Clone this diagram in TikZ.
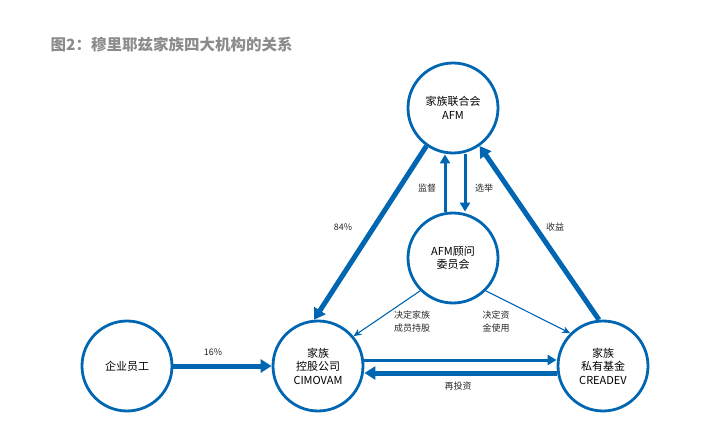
\documentclass[tikz,border=0pt]{standalone}
\usepackage{fontspec}
\setmainfont{Liberation Sans}
\newfontfamily\cjk{Noto Sans CJK SC}
\usetikzlibrary{arrows.meta}
\definecolor{afmblue}{RGB}{0,102,178}
\tikzset{every picture/.style={line width=0.75pt},
  org/.style={circle,draw=afmblue,line width=2.8pt,minimum size=90pt,inner sep=0pt,align=center,font=\cjk\fontsize{11}{13.5}\selectfont},
  thick arrow/.style={draw=afmblue,line width=5pt,-{Triangle[length=11pt,width=13pt]}},
  mid arrow/.style={draw=afmblue,line width=3pt,-{Triangle[length=9pt,width=10pt]}},
  thin arrow/.style={draw=afmblue,line width=1.1pt,-{Stealth[length=8pt,width=7pt]}},
  lbl/.style={font=\cjk\fontsize{9}{13}\selectfont,text=black!85,align=center}}
\begin{document}
\begin{tikzpicture}[x=1pt,y=1pt,yscale=-1,xscale=1]
\useasboundingbox (0,0) rectangle (719,435);

% Title
\node[anchor=west,font=\cjk\bfseries\fontsize{15.5}{18}\selectfont,text=black!45] (title) at (47,45) {图2：穆里耶兹家族四大机构的关系};

% Circles
\node[org] (afm) at (453,108) {家族联合会\\AFM};
\node[org] (board) at (453,258) {AFM顾问\\委员会};
\node[org] (cimovam) at (318,366) {家族\\控股公司\\CIMOVAM};
\node[org] (creadev) at (603,366) {家族\\私有基金\\CREADEV};
\node[org] (staff) at (127,366) {企业员工};

% Thick arrows
\draw[thick arrow] (afm.235) -- (cimovam.95);
\draw[thick arrow] (creadev.95) -- (afm.-55);
\draw[thick arrow] (staff.east) -- (cimovam.west);

% Between AFM and board
\draw[mid arrow] ([xshift=-8pt]board.north) -- ([xshift=-8pt]afm.south);
\draw[mid arrow] ([xshift=12pt]afm.south) -- ([xshift=12pt]board.north);

% Board decisions
\draw[thin arrow] (board.225) -- (cimovam.40);
\draw[thin arrow] (board.-45) -- (creadev.135);

% Between holding and fund
\draw[mid arrow] ([yshift=-6pt]cimovam.east) -- ([yshift=-6pt]creadev.west);
\draw[thick arrow] ([yshift=7pt]creadev.west) -- ([yshift=7pt]cimovam.east);

% Text Node
\node[lbl] (l84) at (343,227) {84\%};
\node[lbl] (lsup) at (427,188) {监督};
\node[lbl] (lele) at (484,188) {选举};
\node[lbl] (lrev) at (555,227) {收益};
\node[lbl] (lhold) at (412,322) {决定家族\\成员持股};
\node[lbl] (lfund) at (496,322) {决定资\\金使用};
\node[lbl] (lre) at (458,386) {再投资};
\node[lbl] (l16) at (213,352) {16\%};
\end{tikzpicture}
\end{document}
